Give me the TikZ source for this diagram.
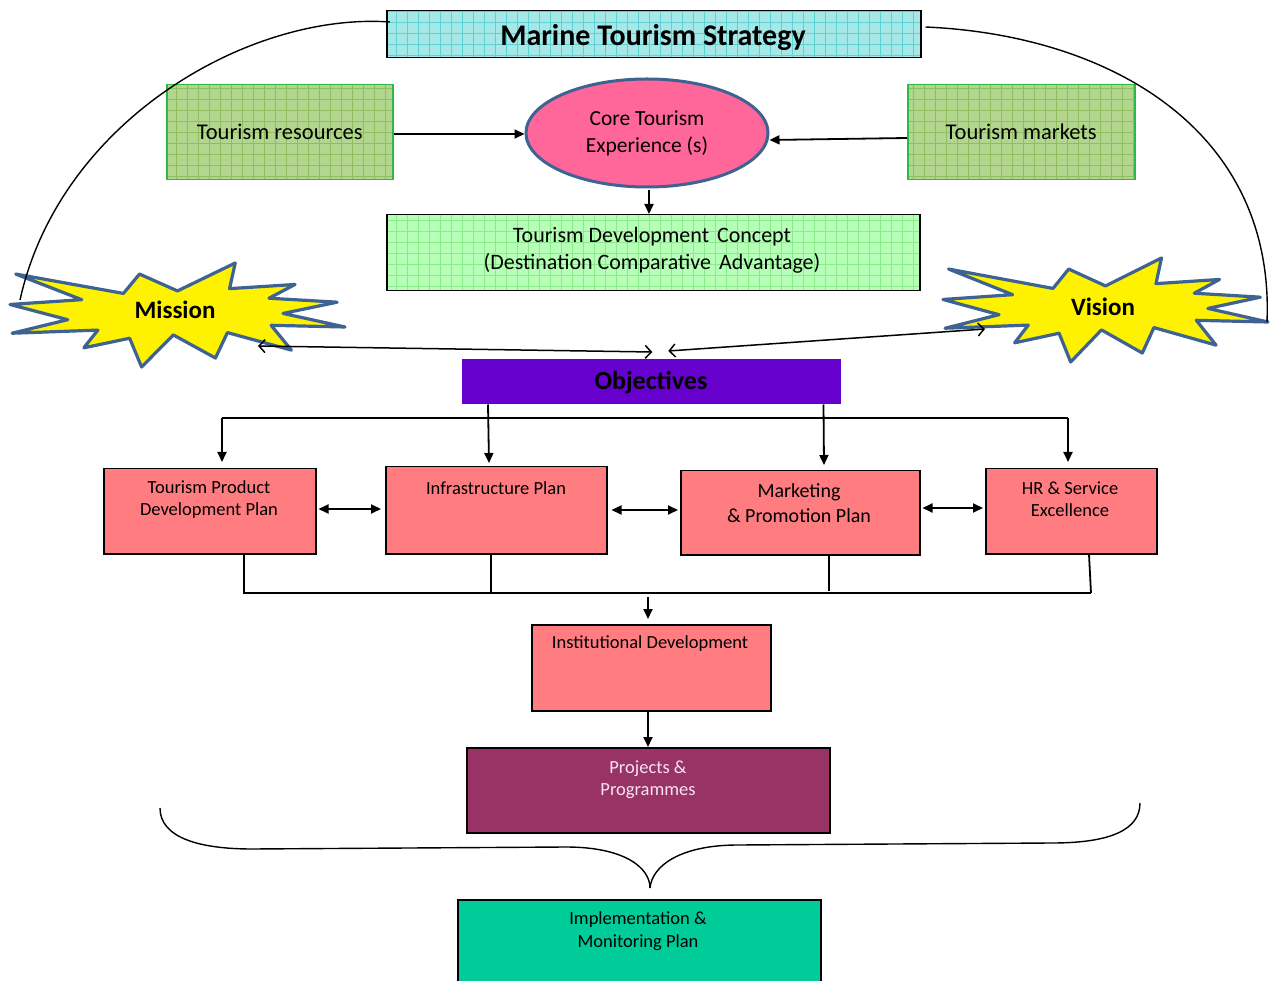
\documentclass[tikz,border=0pt]{standalone}
\usepackage{fontspec}
\setmainfont{Carlito}
\usetikzlibrary{shapes.geometric,arrows.meta,calc}
\definecolor{titlefill}{HTML}{A6E8E8}
\definecolor{titlegrid}{HTML}{5ED2D2}
\definecolor{resfill}{HTML}{B2D68E}
\definecolor{resgrid}{HTML}{8EBE5E}
\definecolor{resborder}{HTML}{2DB84A}
\definecolor{corefill}{HTML}{FF6699}
\definecolor{shapeblue}{HTML}{3E6393}
\definecolor{devfill}{HTML}{B6FFB6}
\definecolor{devgrid}{HTML}{8CEA8C}
\definecolor{objfill}{HTML}{6600CC}
\definecolor{pinkfill}{HTML}{FF7C80}
\definecolor{projfill}{HTML}{993366}
\definecolor{implfill}{HTML}{00CC99}
\definecolor{projtext}{HTML}{F4E4F0}
\newcommand\patbox[6]{%
  \fill[#5] (#1,#2) rectangle (#3,#4);
  \begin{scope}
    \clip (#1,#2) rectangle (#3,#4);
    \draw[#6, line width=0.7pt, step=11pt] (#1,#4) grid (#3,#2);
  \end{scope}}
\newcommand\burstpath{(108,58) -- (145.22,0) -- (141.55,53.25) -- (183.80,44.57) -- (167.02,73.15) -- (210.97,81.37) -- (176.07,104.75) -- (216,132.90) -- (168.37,129.42) -- (181.45,180.95) -- (140.20,144.57) -- (132.47,197.37) -- (105.32,149.35) -- (84.85,216) -- (77.15,156.27) -- (47.62,176.17) -- (56.67,139.37) -- (1.35,145.87) -- (37.22,117.75) -- (0,86.15) -- (46.27,76.17) -- (3.70,22.95) -- (73.12,63.20) -- (83.52,22.95) -- cycle}
\begin{document}
\begin{tikzpicture}[x=1pt,y=-1pt,
  box/.style={draw=black, line width=1.5pt, anchor=north west, inner sep=0pt},
  txt/.style={inner sep=0pt, align=center},
  conn/.style={line width=1.8pt, -{Triangle[length=10pt,width=9pt]}},
  dconn/.style={line width=1.8pt, {Triangle[length=10pt,width=9pt]}-{Triangle[length=10pt,width=9pt]}},
  oconn/.style={line width=1.5pt, {Straight Barb[length=6pt,width=13pt]}-{Straight Barb[length=6pt,width=13pt]}},
  bus/.style={line width=1.8pt},
  curve/.style={line width=1.4pt},
  burst/.style={fill=yellow, draw=shapeblue, line width=3.2pt, line join=round}
]
\useasboundingbox (0,0) rectangle (1278,981);
\fill[white] (0,0) rectangle (1278,981);

% patterned fills
\patbox{386}{10}{920}{57}{titlefill}{titlegrid}
\patbox{166}{84}{392}{179}{resfill}{resgrid}
\patbox{907}{84}{1134}{179}{resfill}{resgrid}
\patbox{386}{214}{919}{290}{devfill}{devgrid}

% top boxes
\node[box, minimum width=534pt, minimum height=47pt] (title) at (386,10) {};
\node[txt, font=\fontsize{30}{36}\selectfont\bfseries] (titlet) at (653,38) {Marine Tourism Strategy};
\node[box, draw=resborder, minimum width=226pt, minimum height=95pt] (res) at (166,84)
  {\fontsize{22.5}{27}\selectfont Tourism resources};
\node[box, draw=resborder, minimum width=227pt, minimum height=95pt] (mkt) at (907,84)
  {\fontsize{22.5}{27}\selectfont Tourism markets};
\node[ellipse, draw=shapeblue, fill=corefill, line width=3pt, inner sep=0pt,
  minimum width=242pt, minimum height=108pt, align=center,
  font=\fontsize{21.5}{27}\selectfont] (core) at (647,133) {Core Tourism\\Experience (s)};
\node[box, draw=black, minimum width=533pt, minimum height=76pt] (dev) at (386,214) {};
\node[txt, font=\fontsize{22}{27}\selectfont] (devt) at (652,250)
  {Tourism Development\hspace{3pt} Concept\\(Destination Comparative\hspace{3pt} Advantage)};

\draw[conn] (res.east |- 0,134) -- (core.west |- 0,134);
\draw[conn] (mkt.west |- 0,138) -- ([yshift=-7pt]core.east);
\draw[conn] (649,190) -- (dev.north -| 649,0);

% bursts
\begin{scope}[shift={(10,263)}, x=1.5509pt, y=-0.4815pt]
  \draw[burst] \burstpath;
\end{scope}
\begin{scope}[shift={(943,258)}, x=1.5046pt, y=-0.4815pt]
  \draw[burst] \burstpath;
\end{scope}
\node[txt, font=\fontsize{25}{30}\selectfont\bfseries] (mission) at (175,310) {Mission};
\node[txt, font=\fontsize{25}{30}\selectfont\bfseries] (vision) at (1103,307) {Vision};

% big curves
\draw[curve] ([shift={(4,12)}]title.north west) .. controls (250,12) and (60,120) .. ([shift={(-155,-10)}]mission.center);
\draw[curve] ([shift={(4,17)}]title.north east) .. controls (1110,35) and (1275,130) .. ([shift={(164,15)}]vision.center);

% objectives
\node[box, draw=none, fill=objfill, minimum width=379pt, minimum height=45pt] (obj) at (461,358) {};
\node[txt, font=\fontsize{26}{30}\selectfont\bfseries] (objt) at (651,383) {Objectives};
\draw[oconn] ([shift={(83,36)}]mission.center) -- ([shift={(1,-6)}]obj.north);
\draw[oconn] ([shift={(17,-7)}]obj.north) -- ([shift={(-118,22)}]vision.center);

% plan boxes
\node[box, fill=pinkfill, minimum width=212pt, minimum height=85pt] (tpdp) at (103,468) {};
\node[box, fill=pinkfill, minimum width=221pt, minimum height=87pt] (infra) at (385,466) {};
\node[box, fill=pinkfill, minimum width=239pt, minimum height=84pt] (mark) at (680,470) {};
\node[box, fill=pinkfill, minimum width=171pt, minimum height=85pt] (hr) at (985,468) {};
\node[txt, font=\fontsize{18.5}{22}\selectfont] (tpdpt) at (209,500) {Tourism Product\\Development Plan};
\node[txt, font=\fontsize{18.5}{22}\selectfont] (infrat) at (496,488) {Infrastructure Plan};
\node[txt, font=\fontsize{20}{25}\selectfont] (markt) at (799,503) {Marketing\\\& Promotion Plan};
\node[txt, font=\fontsize{18.5}{22}\selectfont] (hrt) at (1070,499) {HR \& Service\\Excellence};

% top bus
\coordinate (busL) at (222,418);
\coordinate (busR) at (1068,418);
\draw[bus] (busL) -- (busR);
\draw[conn] (busL) -- ([yshift=6pt]busL |- tpdp.north);
\draw[conn] (busR) -- ([yshift=6pt]busR |- hr.north);
\draw[conn] ([xshift=27pt]obj.south west) -- ([shift={(104pt,3pt)}]infra.north west);
\draw[conn] ([xshift=-18pt]obj.south east) -- ([shift={(144pt,5pt)}]mark.north west);

% side double arrows
\draw[dconn] ([xshift=2pt]tpdp.east |- 0,509) -- ([xshift=-4pt]infra.west |- 0,509);
\draw[dconn] ([xshift=4pt]infra.east |- 0,510) -- ([xshift=-2pt]mark.west |- 0,510);
\draw[dconn] ([xshift=2pt]mark.east |- 0,508) -- ([xshift=-2pt]hr.west |- 0,508);

% bottom bus
\coordinate (bbL) at (243,593);
\coordinate (bbR) at (1091,593);
\draw[bus] (bbL) -- (bbR);
\draw[bus] ([xshift=141pt]tpdp.south west) -- ([xshift=141pt]tpdp.south west |- bbL);
\draw[bus] ([xshift=106pt]infra.south west) -- ([xshift=106pt]infra.south west |- bbL);
\draw[bus] ([xshift=149pt]mark.south west) -- (829,591);
\draw[bus] ([xshift=104pt]hr.south west) -- (bbR);

% lower boxes
\node[box, fill=pinkfill, minimum width=239pt, minimum height=86pt] (inst) at (531,624) {};
\node[txt, font=\fontsize{18.5}{22}\selectfont] (instt) at (650,644) {Institutional Development};
\node[box, fill=projfill, minimum width=363pt, minimum height=85pt] (proj) at (466,747) {};
\node[txt, text=projtext, font=\fontsize{18.5}{22}\selectfont] (projt) at (648,780) {Projects \&\\Programmes};
\node[box, fill=implfill, minimum width=363pt, minimum height=95pt] (impl) at (457,899) {};
\node[txt, font=\fontsize{18.5}{23}\selectfont] (implt) at (638,931) {Implementation \&\\Monitoring Plan};

\coordinate (bbM) at (648,597);
\draw[conn] (bbM) -- ([yshift=5pt]bbM |- inst.north);
\draw[conn] (inst.south -| 648,0) -- (proj.north -| 648,0);

% brace
\coordinate (brL) at (160,808);
\coordinate (brR) at (1140,803);
\coordinate (brT) at (650,888);
\draw[curve] (brL) .. controls (160,838) and (200,849) .. (252,849) -- (566,847)
  .. controls (625,847) and (650,868) .. (brT);
\draw[curve] (brT) .. controls (652,866) and (680,845) .. (738,845) -- (1052,843)
  .. controls (1110,843) and (1140,830) .. (brR);
\end{tikzpicture}
\end{document}
